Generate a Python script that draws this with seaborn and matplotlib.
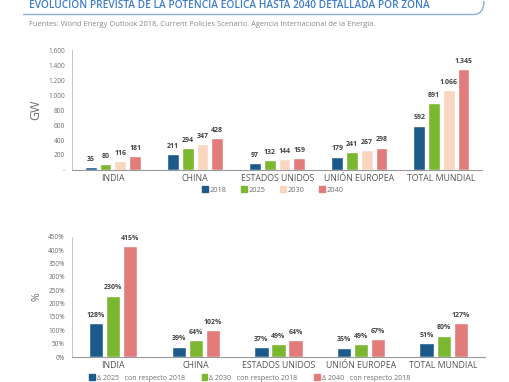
import matplotlib
matplotlib.use("Agg")
import matplotlib.pyplot as plt
import seaborn as sns
import pandas as pd
from matplotlib.path import Path
from matplotlib.patches import PathPatch, Patch

# Datos
zonas = ["INDIA", "CHINA", "ESTADOS UNIDOS", "UNIÓN EUROPEA", "TOTAL MUNDIAL"]
anios = ["2018", "2025", "2030", "2040"]
gw_2018 = [35, 211, 97, 179, 592]
gw_2025 = [80, 294, 132, 241, 891]
gw_2030 = [116, 347, 144, 267, 1066]
gw_2040 = [181, 428, 159, 298, 1345]

deltas = ["Δ 2025   con respecto 2018", "Δ 2030   con respecto 2018", "Δ 2040   con respecto 2018"]
pct_2025 = [128, 39, 37, 35, 51]
pct_2030 = [230, 64, 49, 49, 80]
pct_2040 = [415, 102, 64, 67, 127]

col_azul = "#1d5a8c"
col_verde = "#7cb82f"
col_crema = "#f8d6c0"
col_rosa = "#e27c7b"
gris = "#6e6e6e"

sns.set_style("white")
plt.rcParams["font.family"] = ["Open Sans", "DejaVu Sans"]


def miles(v):
    return f"{v:,.0f}".replace(",", ".")


df_gw = pd.DataFrame({
    "zona": zonas * 4,
    "anio": [a for a in anios for _ in zonas],
    "valor": gw_2018 + gw_2025 + gw_2030 + gw_2040,
})
df_pct = pd.DataFrame({
    "zona": zonas * 3,
    "delta": [d for d in deltas for _ in zonas],
    "valor": pct_2025 + pct_2030 + pct_2040,
})

fig = plt.figure(figsize=(5.1, 3.82), dpi=100)
ax1 = fig.add_axes([0.141, 0.555, 0.805, 0.314])
ax2 = fig.add_axes([0.141, 0.0654, 0.81, 0.315])

# Grafico superior (GW)
sns.barplot(data=df_gw, x="zona", y="valor", hue="anio", ax=ax1,
            palette=[col_azul, col_verde, col_crema, col_rosa],
            width=0.72, gap=0.2, legend=False, saturation=1)
for cont in ax1.containers:
    ax1.bar_label(cont, labels=[miles(b.get_height()) for b in cont], padding=3,
                  fontsize=5, fontweight="bold", color="#444444")
ax1.set_ylim(0, 1600)
ax1.set_yticks(range(0, 1601, 200))
ax1.set_yticklabels(["-"] + [miles(v) for v in range(200, 1601, 200)])
ax1.set_ylabel("GW", fontsize=9, color=gris, labelpad=4)

# Grafico inferior (%)
sns.barplot(data=df_pct, x="zona", y="valor", hue="delta", ax=ax2,
            palette=[col_azul, col_verde, col_rosa],
            width=0.62, gap=0.16, legend=False, saturation=1)
for cont in ax2.containers:
    ax2.bar_label(cont, labels=[f"{b.get_height():.0f}%" for b in cont], padding=3,
                  fontsize=5, fontweight="bold", color="#444444")
ax2.set_ylim(0, 450)
ax2.set_yticks(range(0, 451, 50))
ax2.set_yticklabels([f"{v}%" for v in range(0, 451, 50)])
ax2.set_ylabel("%", fontsize=7.5, color=gris, labelpad=4)

for ax in (ax1, ax2):
    ax.set_xlim(-0.5, 4.5)
    ax.set_xlabel("")
    sns.despine(ax=ax)
    ax.spines["left"].set_color("#bbbbbb")
    ax.spines["bottom"].set_color("#999999")
    ax.spines["left"].set_linewidth(0.6)
    ax.spines["bottom"].set_linewidth(0.8)
    ax.tick_params(axis="y", length=0, labelsize=4.7, labelcolor=gris, pad=5)
    ax.tick_params(axis="x", length=0, labelsize=6.3, labelcolor="#555555", pad=3)

# Leyendas
h1 = [Patch(color=c) for c in [col_azul, col_verde, col_crema, col_rosa]]
fig.legend(h1, anios, loc="center", bbox_to_anchor=(0.535, 1 - 190 / 382), ncol=4,
           frameon=False, fontsize=5.3, labelcolor=gris, handlelength=0.8, handleheight=0.8,
           handletextpad=0.3, columnspacing=1.9)
h2 = [Patch(color=c) for c in [col_azul, col_verde, col_rosa]]
fig.legend(h2, deltas, loc="center", bbox_to_anchor=(0.49, 1 - 378 / 382), ncol=3,
           frameon=False, fontsize=5, labelcolor=gris, handlelength=0.8, handleheight=0.8,
           handletextpad=0.3, columnspacing=2.4)

# Titulo y linea redondeada
fig.text(29 / 510, 1 - 5 / 382, "EVOLUCIÓN PREVISTA DE LA POTENCIA EÓLICA HASTA 2040 DETALLADA POR ZONA",
         fontsize=7.3, color="#3d7cc9", va="center", ha="left", fontweight="semibold")
W, H = 510, 382
verts = [(23 / W, 1 - 14.5 / H), (474 / W, 1 - 14.5 / H), (484 / W, 1 - 14 / H), (484 / W, 1 - 1 / H)]
codes = [Path.MOVETO, Path.LINETO, Path.CURVE3, Path.CURVE3]
fig.patches.append(PathPatch(Path(verts, codes), transform=fig.transFigure,
                             facecolor="none", edgecolor="#8aaed8", linewidth=1.0))
fig.text(29 / 510, 1 - 25 / 382,
         "Fuentes: World Energy Outlook 2018, Current Policies Scenario. Agencia Internacional de la Energía.",
         fontsize=5.4, color="#888888", va="center", ha="left")

fig.savefig("out.png", dpi=100)
